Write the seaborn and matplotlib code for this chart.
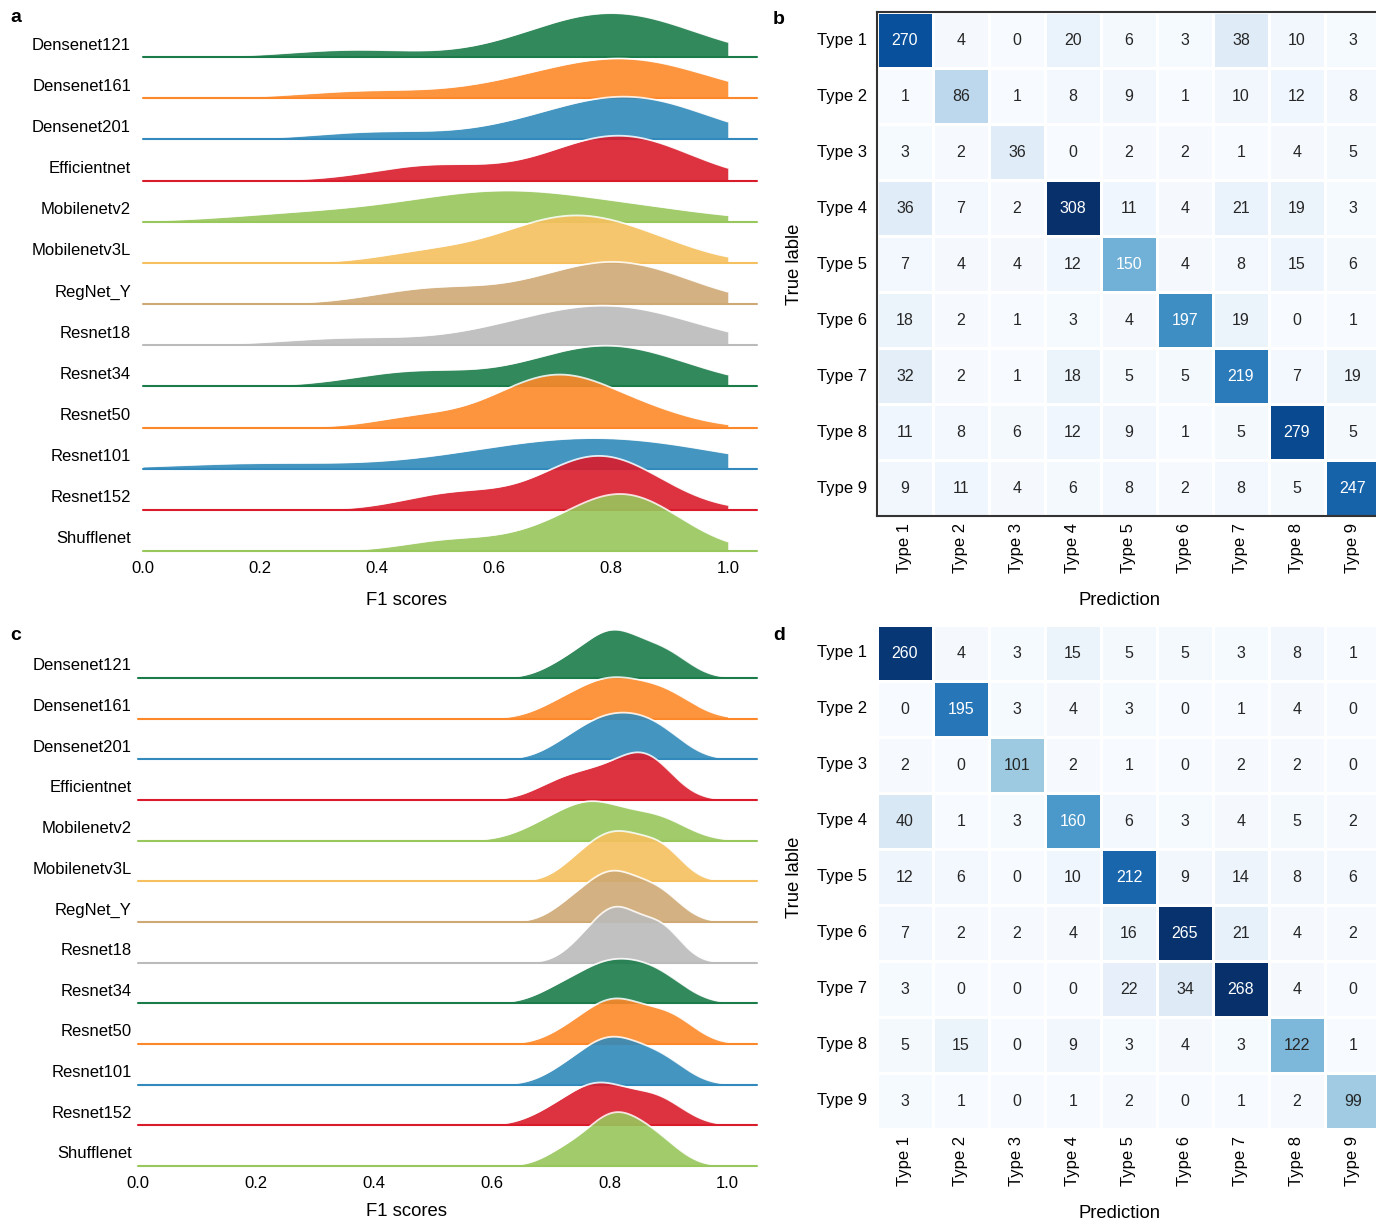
import numpy as np
import matplotlib
matplotlib.use("Agg")
import matplotlib.pyplot as plt
import seaborn as sns

# ---- data ----
models = ["Densenet121", "Densenet161", "Densenet201", "Efficientnet", "Mobilenetv2",
          "Mobilenetv3L", "RegNet_Y", "Resnet18", "Resnet34", "Resnet50",
          "Resnet101", "Resnet152", "Shufflenet"]

# per-class F1 scores, panel a
f1_a = [
    [0.36, 0.66, 0.72, 0.76, 0.79, 0.81, 0.84, 0.88, 0.93],
    [0.38, 0.62, 0.70, 0.76, 0.80, 0.82, 0.85, 0.90, 0.95],
    [0.40, 0.64, 0.72, 0.78, 0.80, 0.83, 0.86, 0.90, 0.94],
    [0.47, 0.52, 0.71, 0.76, 0.79, 0.81, 0.84, 0.87, 0.91],
    [0.25, 0.42, 0.52, 0.58, 0.61, 0.65, 0.71, 0.79, 0.90],
    [0.48, 0.60, 0.66, 0.70, 0.73, 0.76, 0.79, 0.84, 0.90],
    [0.47, 0.52, 0.68, 0.74, 0.78, 0.80, 0.83, 0.87, 0.92],
    [0.35, 0.60, 0.68, 0.73, 0.77, 0.80, 0.83, 0.87, 0.93],
    [0.45, 0.48, 0.68, 0.73, 0.77, 0.79, 0.82, 0.86, 0.92],
    [0.47, 0.60, 0.65, 0.68, 0.71, 0.73, 0.76, 0.80, 0.88],
    [0.20, 0.55, 0.64, 0.70, 0.75, 0.79, 0.83, 0.89, 0.96],
    [0.50, 0.58, 0.70, 0.74, 0.76, 0.78, 0.80, 0.84, 0.88],
    [0.52, 0.66, 0.74, 0.78, 0.80, 0.82, 0.84, 0.87, 0.91],
]

# per-class F1 scores, panel c
f1_c = [
    [0.72, 0.76, 0.79, 0.80, 0.81, 0.83, 0.86, 0.89, 0.91],
    [0.71, 0.75, 0.78, 0.80, 0.81, 0.84, 0.87, 0.89, 0.92],
    [0.72, 0.76, 0.78, 0.80, 0.82, 0.84, 0.86, 0.88, 0.91],
    [0.70, 0.74, 0.77, 0.80, 0.83, 0.85, 0.86, 0.87, 0.89],
    [0.68, 0.72, 0.75, 0.77, 0.78, 0.80, 0.85, 0.88, 0.90],
    [0.74, 0.77, 0.79, 0.81, 0.82, 0.84, 0.87, 0.89, 0.90],
    [0.73, 0.76, 0.79, 0.80, 0.81, 0.83, 0.86, 0.88, 0.90],
    [0.75, 0.78, 0.80, 0.81, 0.82, 0.84, 0.87, 0.89, 0.90],
    [0.71, 0.75, 0.78, 0.80, 0.81, 0.84, 0.86, 0.88, 0.91],
    [0.73, 0.77, 0.79, 0.81, 0.82, 0.84, 0.88, 0.90, 0.92],
    [0.72, 0.76, 0.78, 0.80, 0.81, 0.83, 0.86, 0.88, 0.91],
    [0.70, 0.74, 0.77, 0.78, 0.79, 0.82, 0.86, 0.88, 0.90],
    [0.72, 0.76, 0.79, 0.80, 0.81, 0.83, 0.85, 0.87, 0.90],
]

types = ["Type 1", "Type 2", "Type 3", "Type 4", "Type 5", "Type 6", "Type 7", "Type 8", "Type 9"]

cm_b = [
    [270, 4, 0, 20, 6, 3, 38, 10, 3],
    [1, 86, 1, 8, 9, 1, 10, 12, 8],
    [3, 2, 36, 0, 2, 2, 1, 4, 5],
    [36, 7, 2, 308, 11, 4, 21, 19, 3],
    [7, 4, 4, 12, 150, 4, 8, 15, 6],
    [18, 2, 1, 3, 4, 197, 19, 0, 1],
    [32, 2, 1, 18, 5, 5, 219, 7, 19],
    [11, 8, 6, 12, 9, 1, 5, 279, 5],
    [9, 11, 4, 6, 8, 2, 8, 5, 247],
]

cm_d = [
    [260, 4, 3, 15, 5, 5, 3, 8, 1],
    [0, 195, 3, 4, 3, 0, 1, 4, 0],
    [2, 0, 101, 2, 1, 0, 2, 2, 0],
    [40, 1, 3, 160, 6, 3, 4, 5, 2],
    [12, 6, 0, 10, 212, 9, 14, 8, 6],
    [7, 2, 2, 4, 16, 265, 21, 4, 2],
    [3, 0, 0, 0, 22, 34, 268, 4, 0],
    [5, 15, 0, 9, 3, 4, 3, 122, 1],
    [3, 1, 0, 1, 2, 0, 1, 2, 99],
]

ridge_colors = ["#1b7c4a", "#fd8829", "#318abb", "#da1b2b",
                "#98c75b", "#f6c05e", "#cfa974", "#bbbbbb"]

sns.set_theme(style="white")
plt.rcParams["font.family"] = ["Liberation Sans", "DejaVu Sans"]
plt.rcParams["text.color"] = "black"
plt.rcParams["axes.labelcolor"] = "black"
plt.rcParams["xtick.color"] = "black"
plt.rcParams["ytick.color"] = "black"

W, H = 1376, 1220
fig = plt.figure(figsize=(W / 100, H / 100), dpi=100)


def rect(left, top, width, height):
    return [left / W, 1 - (top + height) / H, width / W, height / H]


def kde_peak(vals):
    v = np.asarray(vals)
    bw = v.std(ddof=1) * len(v) ** (-0.2)
    grid = np.linspace(0, 1, 500)
    dens = np.exp(-0.5 * ((grid[:, None] - v) / bw) ** 2).sum(1) / (len(v) * bw * np.sqrt(2 * np.pi))
    return dens.max()


def ridge(scores, x0, x1, base0, base_last, tallest, label_gap, xlab_top):
    n = len(models)
    step = (base_last - base0) / (n - 1)
    h = 70
    ytop = max(kde_peak(s) for s in scores) * h / tallest
    for i, (name, vals) in enumerate(zip(models, scores)):
        base = base0 + i * step
        ax = fig.add_axes(rect(x0, base - h, x1 - x0, h))
        color = ridge_colors[i % len(ridge_colors)]
        sns.kdeplot(x=vals, ax=ax, fill=True, color=color, alpha=0.9, linewidth=0, clip=(0, 1))
        sns.kdeplot(x=vals, ax=ax, color="white", lw=1.3, alpha=0.85, clip=(0, 1))
        ax.axhline(0, color=color, lw=1.5, clip_on=False)
        ax.set_xlim(0, 1.05)
        ax.set_ylim(0, ytop)
        ax.patch.set_alpha(0)
        ax.set_yticks([])
        ax.set_ylabel("")
        for s in ax.spines.values():
            s.set_visible(False)
        ax.text(-label_gap / (x1 - x0), 12 / h, name, ha="right", va="center",
                transform=ax.transAxes, fontsize=12)
        if i < n - 1:
            ax.set_xticks([])
        else:
            ax.set_xticks([0, 0.2, 0.4, 0.6, 0.8, 1.0])
            ax.set_xticklabels(["0.0", "0.2", "0.4", "0.6", "0.8", "1.0"])
            ax.tick_params(axis="x", length=0, pad=7, labelsize=12)
            ax.set_xlabel("F1 scores", fontsize=13.3)
            ax.xaxis.set_label_coords((406 - x0) / (x1 - x0), -xlab_top / h)


def confusion(cm, top, frame):
    ax = fig.add_axes(rect(877, top, 504, 504))
    sns.heatmap(np.array(cm), ax=ax, cmap="Blues", annot=True, fmt="d", cbar=False,
                linewidths=1, linecolor="white", annot_kws={"fontsize": 11.5},
                xticklabels=types, yticklabels=types)
    ax.tick_params(length=0, labelsize=12)
    ax.tick_params(axis="y", pad=7, rotation=0)
    ax.tick_params(axis="x", pad=5, rotation=90)
    ax.set_xlabel("Prediction", fontsize=13.3)
    ax.set_ylabel("True lable", fontsize=13.3, labelpad=10)
    ax.xaxis.set_label_coords((1120 - 877) / 504, -76 / 504)
    for s in ax.spines.values():
        s.set_visible(frame)
        s.set_color("#333333")
        s.set_linewidth(1.5)


ridge(f1_a, 143, 757, 57, 551, 57, 12, 41)
ridge(f1_c, 138, 757, 678, 1166, 56, 6, 37)
confusion(cm_b, 12, True)
confusion(cm_d, 625, False)

for letter, x, y in [("a", 10, 18), ("b", 773, 20), ("c", 10, 635), ("d", 773, 635)]:
    fig.text(x / W, 1 - y / H, letter, fontsize=14, fontweight="bold", va="center", ha="left")

fig.savefig("out.png", dpi=100)
